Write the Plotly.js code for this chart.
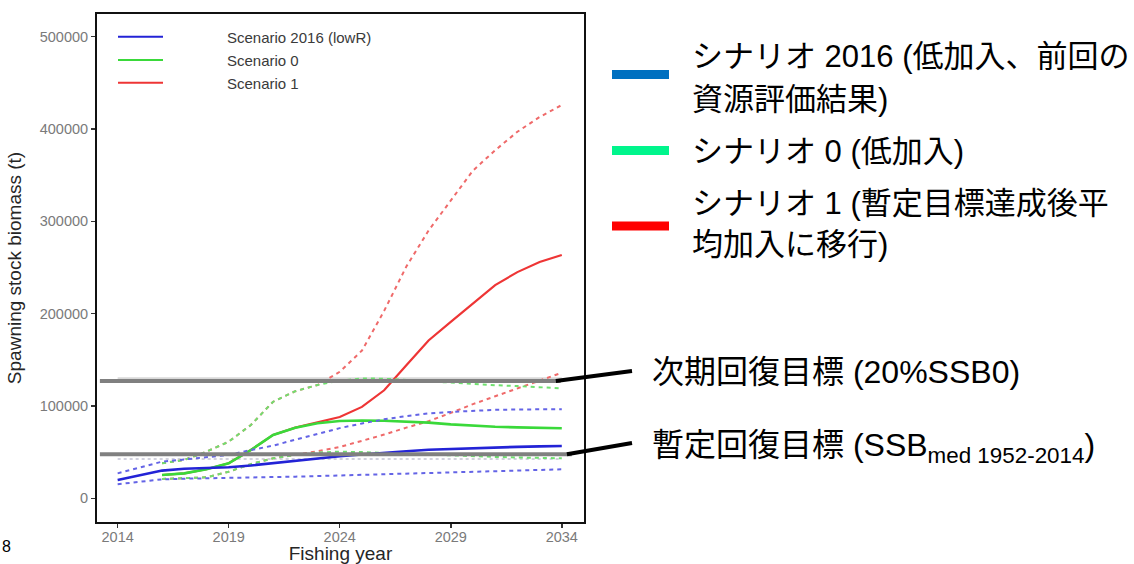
<!DOCTYPE html>
<html>
<head>
<meta charset="utf-8">
<script src="https://cdn.plot.ly/plotly-3.0.1.min.js"></script>
<style>html,body{margin:0;padding:0;background:#fff;}#chart{width:1134px;height:564px;}</style>
</head>
<body>
<div id="chart"></div>
<script>
// ---- data ----
const years = [2014,2015,2016,2017,2018,2019,2020,2021,2022,2023,2024,2025,2026,2027,2028,2029,2030,2031,2032,2033,2034];

const s2016Mid = [19800,25000,30000,32000,33000,33600,35500,38000,41000,43500,45500,47500,49500,51000,52500,53500,54500,55200,55700,56200,56600];
const s2016Hi  = [27000,33000,39700,42000,44400,47000,52300,57000,63500,70000,76000,81000,85500,89000,92000,93500,95000,95800,96200,96400,96500];
const s2016Lo  = [15200,18000,20500,21200,21800,22300,22700,23000,23400,24000,24600,25200,25800,26300,27000,27700,28500,29300,30000,30700,31400];

const s0Mid = [null,null,25200,27000,31400,37900,52300,68600,76500,81200,83700,84300,84000,83300,82000,80000,78500,77500,76800,76200,75800];
const s0Hi  = [null,null,37900,41500,50500,61300,79400,104600,116000,122700,127400,129800,129500,128000,126500,125000,123500,122500,121500,120300,119100];
const s0Lo  = [null,null,20900,21700,22700,28800,37000,43300,46900,49500,50500,50000,49000,48000,47000,46000,45300,44800,44200,43700,43300];

const s1Mid = [null,null,25200,27000,31400,37900,52300,68600,76500,82000,88000,99000,117000,144000,171000,191000,211000,231000,245000,256000,263500];
const s1Hi  = [null,null,37900,41500,50500,61300,79400,104600,116000,122700,137000,160000,203000,251000,290000,323000,355000,377000,397000,413000,426000];
const s1Lo  = [null,null,20900,21700,22700,28800,37000,43300,46900,51000,55500,62000,69000,76500,83500,92500,102000,110500,119000,128000,136000];

const refYears = [2014, 2034];
const refSSB0 = [130000, 130000];      // 20%SSB0 reference (chart line)
const refMed  = [42600, 42600];        // SSBmed reference (chart line)
const targetLevels = [127000, 47600];  // overlaid target bars

const seriesNames = ["Scenario 2016 (lowR)", "Scenario 0", "Scenario 1"];
const rightLegend = [
  ["シナリオ 2016 (低加入、前回の", "資源評価結果)"],
  ["シナリオ 0 (低加入)"],
  ["シナリオ 1 (暫定目標達成後平", "均加入に移行)"]
];
const targetLabels = ["次期回復目標 (20%SSB0)", "暫定回復目標 (SSB<sub>med 1952-2014</sub>)"];
const yTicks = [0,100000,200000,300000,400000,500000];
const xTicks = [2014,2019,2024,2029,2034];

// ---- layout helpers ----
const L = 97, T = 14, W = 487, H = 508;
const px = x => (x - L) / W;
const py = y => (T + H - y) / H;
const FONT = "Liberation Sans, Arial, Noto Sans CJK JP, sans-serif";

const C = {
  blue: "#2323d6", blueD: "#6464e6",
  green: "#3ad93a", greenD: "#6fe06f",
  red: "#ee3535", redD: "#ef6a6a"
};

function line(y, color, dash, width, name) {
  return {x: years, y: y, type: "scatter", mode: "lines", name: name || "",
    line: {color: color, width: width, dash: dash || "solid"}, connectgaps: false, showlegend: false, hoverinfo: "skip"};
}

const traces = [
  {x: refYears, y: refSSB0, type: "scatter", mode: "lines", name: "20%SSB0", line: {color: "#d8d8d8", width: 2}, showlegend: false},
  {x: refYears, y: refMed, type: "scatter", mode: "lines", name: "SSBmed", line: {color: "#c4c4d4", width: 1.5, dash: "dot"}, showlegend: false},
  line(s1Hi, C.redD, "4px,4px", 2, "Scenario 1 upper"),
  line(s1Lo, C.redD, "4px,4px", 2, "Scenario 1 lower"),
  line(s1Mid, C.red, "solid", 2.2, seriesNames[2]),
  line(s0Hi, C.greenD, "4px,4px", 2, "Scenario 0 upper"),
  line(s0Lo, C.greenD, "4px,4px", 2, "Scenario 0 lower"),
  line(s0Mid, C.green, "solid", 2.6, seriesNames[1]),
  line(s2016Hi, C.blueD, "4px,4px", 2, "Scenario 2016 upper"),
  line(s2016Lo, C.blueD, "4px,4px", 2, "Scenario 2016 lower"),
  line(s2016Mid, C.blue, "solid", 2.6, seriesNames[0])
];

const shapes = [];
const annotations = [];

// overlaid thick target bars + connectors
const barEnds = [2033.95, 2034.45];
const connEnd = [[632, 371], [632, 443]];
const yRange = [-25700, 524600];
const xRange = [2013.07, 2035.0];
targetLevels.forEach((v, i) => {
  shapes.push({type: "line", xref: "x", yref: "y", x0: 2013.2, x1: barEnds[i], y0: v, y1: v,
    line: {color: "#808080", width: 4}, layer: "above"});
  const xp0 = (barEnds[i] - xRange[0]) / (xRange[1] - xRange[0]);
  const yp0 = (v - yRange[0]) / (yRange[1] - yRange[0]);
  shapes.push({type: "line", xref: "paper", yref: "paper", x0: xp0 - 0.01, y0: yp0, x1: px(connEnd[i][0]), y1: py(connEnd[i][1]),
    line: {color: "#000", width: 4}, layer: "above"});
  annotations.push({xref: "paper", yref: "paper", x: px(650), y: py([372, 447][i]), xanchor: "left", yanchor: "middle",
    text: targetLabels[i], showarrow: false, font: {family: FONT, size: 32, color: "#000"}});
});

// inner legend (ggplot style)
const legColors = [C.blue, C.green, C.red];
const legY = [36.7, 60, 82.7];
seriesNames.forEach((n, i) => {
  shapes.push({type: "line", xref: "paper", yref: "paper", x0: px(118), x1: px(163), y0: py(legY[i]), y1: py(legY[i]),
    line: {color: legColors[i], width: 2}});
  annotations.push({xref: "paper", yref: "paper", x: px(225), y: py(legY[i] + 1), xanchor: "left", yanchor: "middle",
    text: n, showarrow: false, font: {family: FONT, size: 15, color: "#3a3a3a"}});
});

// right-hand Japanese legend
const barColors = ["#0070c0", "#00f58c", "#ff0000"];
const barY = [74.5, 150.5, 226];
const textY = [[57, 99], [152], [203, 245]];
rightLegend.forEach((lines, i) => {
  shapes.push({type: "rect", xref: "paper", yref: "paper", x0: px(612), x1: px(669), y0: py(barY[i] - 4.5), y1: py(barY[i] + 4.5),
    fillcolor: barColors[i], line: {width: 0}});
  lines.forEach((t, j) => {
    annotations.push({xref: "paper", yref: "paper", x: px(690), y: py(textY[i][j]), xanchor: "left", yanchor: "middle",
      text: t, showarrow: false, font: {family: FONT, size: 31, color: "#000"}});
  });
});

// slide number
annotations.push({xref: "paper", yref: "paper", x: px(0), y: py(546), xanchor: "left", yanchor: "middle",
  text: "8", showarrow: false, font: {family: FONT, size: 16, color: "#000"}});

const layout = {
  width: 1134, height: 564,
  margin: {l: L, r: 1134 - L - W, t: T, b: 564 - T - H},
  paper_bgcolor: "#fff", plot_bgcolor: "#fff",
  showlegend: false,
  font: {family: FONT},
  xaxis: {range: xRange, tickvals: xTicks, ticktext: xTicks.map(String), showgrid: false, zeroline: false,
    showline: true, mirror: true, linecolor: "#111", linewidth: 2,
    ticks: "outside", ticklen: 4, tickwidth: 1.5, tickcolor: "#333", ticklabelstandoff: -3,
    tickfont: {family: FONT, size: 14.5, color: "#7a7a7a"},
    title: {text: "Fishing year", font: {family: FONT, size: 19, color: "#262626"}, standoff: 5}},
  yaxis: {range: yRange, tickvals: yTicks, ticktext: yTicks.map(String), showgrid: false, zeroline: false,
    showline: true, mirror: true, linecolor: "#111", linewidth: 2,
    ticks: "outside", ticklen: 4, tickwidth: 1.5, tickcolor: "#333",
    tickfont: {family: FONT, size: 14.5, color: "#7a7a7a"},
    title: {text: "Spawning stock biomass (t)", font: {family: FONT, size: 19, color: "#262626"}, standoff: 13}},
  shapes: shapes,
  annotations: annotations
};

Plotly.newPlot("chart", traces, layout, {displayModeBar: false, staticPlot: true});
</script>
</body>
</html>
